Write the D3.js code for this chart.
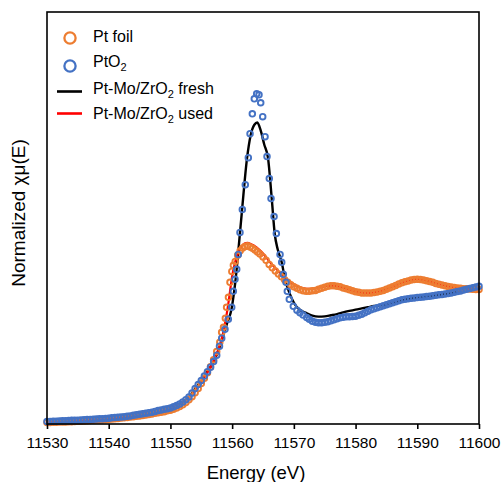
<!DOCTYPE html>
<html>
<head>
<meta charset="utf-8">
<script src="https://cdn.jsdelivr.net/npm/d3@7"></script>
<style>
  html, body { margin: 0; padding: 0; background: #fff; }
  svg { display: block; font-family: Arial, "Liberation Sans", Helvetica, sans-serif; }
</style>
</head>
<body>
<div id="xanes"></div>
<script>
// energy ticks (eV)
const energyTicks = [11530, 11540, 11550, 11560, 11570, 11580, 11590, 11600];

// Pt foil reference (orange circles) [energy, normalized mu]
const ptFoil = [
  [11530, -0.011], [11530.5, -0.011], [11531, -0.010], [11531.5, -0.009], [11532, -0.008], [11532.5, -0.008],
  [11533, -0.007], [11533.5, -0.006], [11534, -0.005], [11534.5, -0.004], [11535, -0.002], [11535.5, -0.001],
  [11536, 0.001], [11536.5, 0.002], [11537, 0.004], [11537.5, 0.005], [11538, 0.007], [11538.5, 0.008],
  [11539, 0.010], [11539.5, 0.011], [11540, 0.013], [11540.5, 0.015], [11541, 0.017], [11541.5, 0.020],
  [11542, 0.022], [11542.5, 0.024], [11543, 0.027], [11543.5, 0.030], [11544, 0.033], [11544.5, 0.036],
  [11545, 0.039], [11545.5, 0.042], [11546, 0.046], [11546.5, 0.050], [11547, 0.054], [11547.5, 0.058],
  [11548, 0.062], [11548.5, 0.067], [11549, 0.071], [11549.5, 0.077], [11550, 0.082], [11550.5, 0.089],
  [11551, 0.098], [11551.5, 0.110], [11552, 0.123], [11552.5, 0.140], [11553, 0.161], [11553.5, 0.185],
  [11554, 0.214], [11554.5, 0.246], [11555, 0.284], [11555.5, 0.324], [11556, 0.367], [11556.5, 0.413],
  [11557, 0.466], [11557.5, 0.527], [11558, 0.598], [11558.3, 0.674], [11558.6, 0.712], [11558.9, 0.780],
  [11559.1, 0.864], [11559.4, 0.939], [11559.65, 1.053], [11559.95, 1.136], [11560.2, 1.182], [11560.5, 1.212],
  [11560.9, 1.258], [11561.3, 1.292], [11561.7, 1.314], [11562.1, 1.326], [11562.5, 1.330], [11562.9, 1.322],
  [11563.3, 1.311], [11563.7, 1.299], [11564.1, 1.284], [11564.5, 1.269], [11565, 1.246], [11565.5, 1.220],
  [11566, 1.189], [11566.5, 1.163], [11567, 1.140], [11567.5, 1.117], [11568, 1.095], [11568.5, 1.072],
  [11569, 1.053], [11569.5, 1.034], [11570, 1.019], [11570.5, 1.008], [11571, 0.996], [11571.5, 0.989],
  [11572, 0.985], [11572.5, 0.985], [11573, 0.989], [11573.5, 0.992], [11574, 1.000], [11574.5, 1.008],
  [11575, 1.015], [11575.5, 1.023], [11576, 1.027], [11576.5, 1.027], [11577, 1.023], [11577.5, 1.019],
  [11578, 1.011], [11578.5, 1.004], [11579, 0.996], [11579.5, 0.989], [11580, 0.981], [11580.5, 0.977],
  [11581, 0.973], [11581.5, 0.972], [11582, 0.972], [11582.5, 0.973], [11583, 0.976], [11583.5, 0.980],
  [11584, 0.985], [11584.5, 0.992], [11585, 1.000], [11585.5, 1.010], [11586, 1.020], [11586.5, 1.030],
  [11587, 1.040], [11587.5, 1.049], [11588, 1.057], [11588.5, 1.064], [11589, 1.070], [11589.5, 1.074],
  [11590, 1.076], [11590.5, 1.074], [11591, 1.070], [11591.5, 1.065], [11592, 1.059], [11592.5, 1.053],
  [11593, 1.045], [11593.5, 1.038], [11594, 1.032], [11594.5, 1.027], [11595, 1.021], [11595.5, 1.017],
  [11596, 1.013], [11596.5, 1.010], [11597, 1.008], [11597.5, 1.005], [11598, 1.004], [11598.5, 1.002],
  [11599, 1.000], [11599.5, 0.998], [11600, 0.998]
];

// PtO2 reference (blue circles)
const ptO2 = [
  [11530, -0.004], [11530.5, -0.003], [11531, -0.002], [11531.5, -0.001], [11532, 0.001], [11532.5, 0.002],
  [11533, 0.002], [11533.5, 0.004], [11534, 0.005], [11534.5, 0.005], [11535, 0.006], [11535.5, 0.008],
  [11536, 0.009], [11536.5, 0.011], [11537, 0.012], [11537.5, 0.014], [11538, 0.015], [11538.5, 0.017],
  [11539, 0.018], [11539.5, 0.020], [11540, 0.021], [11540.5, 0.024], [11541, 0.026], [11541.5, 0.028],
  [11542, 0.030], [11542.5, 0.033], [11543, 0.036], [11543.5, 0.039], [11544, 0.043], [11544.5, 0.047],
  [11545, 0.051], [11545.5, 0.055], [11546, 0.058], [11546.5, 0.063], [11547, 0.067], [11547.5, 0.073],
  [11548, 0.079], [11548.5, 0.084], [11549, 0.089], [11549.5, 0.094], [11550, 0.098], [11550.5, 0.108],
  [11551, 0.117], [11551.5, 0.130], [11552, 0.144], [11552.5, 0.162], [11553, 0.182], [11553.5, 0.212],
  [11554, 0.246], [11554.5, 0.277], [11555, 0.307], [11555.5, 0.341], [11556, 0.375], [11556.5, 0.409],
  [11557, 0.451], [11557.5, 0.500], [11557.95, 0.568], [11558.31, 0.629], [11558.84, 0.697], [11559.38, 0.773],
  [11559.93, 0.864], [11560.19, 0.985], [11560.46, 1.076], [11560.74, 1.152], [11561.0, 1.265], [11561.27, 1.432],
  [11561.65, 1.606], [11562.13, 1.795], [11562.62, 2.000], [11562.9, 2.182], [11563.27, 2.333], [11563.59, 2.447],
  [11563.98, 2.485], [11564.35, 2.477], [11564.63, 2.417], [11564.95, 2.311], [11565.33, 2.159], [11565.65, 2.008],
  [11566.02, 1.841], [11566.3, 1.689], [11566.79, 1.553], [11567.16, 1.424], [11567.76, 1.265], [11568.03, 1.205],
  [11568.29, 1.114], [11568.73, 1.053], [11568.94, 0.985], [11569.26, 0.924], [11569.91, 0.871], [11570.5, 0.841],
  [11570.99, 0.822], [11571.5, 0.805], [11572.08, 0.786], [11572.5, 0.772], [11573, 0.758], [11573.5, 0.750],
  [11574, 0.746], [11574.5, 0.746], [11575, 0.750], [11575.5, 0.754], [11576, 0.761], [11576.5, 0.769],
  [11577, 0.777], [11577.5, 0.784], [11578, 0.788], [11578.5, 0.792], [11579, 0.792], [11579.5, 0.793],
  [11580, 0.795], [11580.5, 0.803], [11581, 0.811], [11581.5, 0.822], [11582, 0.833], [11582.5, 0.845],
  [11583, 0.852], [11583.5, 0.860], [11584, 0.867], [11584.5, 0.875], [11585, 0.883], [11585.5, 0.890],
  [11586, 0.898], [11586.5, 0.905], [11587, 0.913], [11587.5, 0.920], [11588, 0.924], [11588.5, 0.928],
  [11589, 0.932], [11589.5, 0.934], [11590, 0.937], [11590.5, 0.939], [11591, 0.942], [11591.5, 0.945],
  [11592, 0.948], [11592.5, 0.952], [11593, 0.955], [11593.5, 0.958], [11594, 0.961], [11594.5, 0.964],
  [11595, 0.968], [11595.5, 0.973], [11596, 0.977], [11596.5, 0.983], [11597, 0.988], [11597.5, 0.994],
  [11598, 1.000], [11598.5, 1.006], [11599, 1.012], [11599.5, 1.018], [11600, 1.023]
];

// Pt-Mo/ZrO2 fresh (black line)
const fresh = [
  [11530, -0.004], [11532, 0.001], [11534, 0.005], [11536, 0.009], [11538, 0.015], [11540, 0.021],
  [11542, 0.030], [11544, 0.043], [11546, 0.058], [11548, 0.079], [11550, 0.098], [11551, 0.117],
  [11552, 0.144], [11553, 0.182], [11554, 0.246], [11555, 0.307], [11556, 0.375], [11557, 0.451],
  [11558, 0.565], [11558.6, 0.655], [11559.2, 0.745], [11559.9, 0.850], [11560.3, 0.975], [11560.6, 1.090],
  [11561.0, 1.290], [11561.6, 1.600], [11562.4, 1.990], [11563.0, 2.170], [11563.6, 2.250], [11564.08, 2.267],
  [11564.6, 2.210], [11565.2, 2.100], [11565.81, 1.998], [11566.4, 1.700], [11566.9, 1.422], [11567.4, 1.300],
  [11568.03, 1.205], [11568.57, 1.076], [11569.38, 0.962], [11570.5, 0.864], [11571.3, 0.835], [11572.1, 0.818],
  [11573, 0.800], [11574, 0.793], [11575, 0.795], [11576, 0.803], [11577, 0.812], [11578, 0.825],
  [11579, 0.836], [11580, 0.846], [11581, 0.855], [11582, 0.864], [11583, 0.873], [11584, 0.878],
  [11585, 0.885], [11586, 0.898], [11588, 0.922], [11590, 0.937], [11592, 0.948], [11594, 0.961],
  [11596, 0.977], [11598, 1.000], [11600, 1.023]
];

// Pt-Mo/ZrO2 used (red line)
const used = [
  [11530, -0.007], [11532, -0.003], [11534, 0.001], [11536, 0.006], [11538, 0.011], [11540, 0.017],
  [11542, 0.026], [11544, 0.038], [11546, 0.052], [11548, 0.070], [11550, 0.090], [11551, 0.107],
  [11552, 0.133], [11553, 0.170], [11554, 0.228], [11555, 0.295], [11556, 0.370], [11557, 0.458],
  [11558, 0.575], [11558.5, 0.660], [11559, 0.780], [11559.5, 0.930], [11560, 1.100], [11560.5, 1.210],
  [11561, 1.280], [11561.5, 1.325], [11562, 1.348], [11562.5, 1.352], [11563, 1.345], [11563.5, 1.333],
  [11564, 1.316], [11564.5, 1.296], [11565, 1.272], [11565.5, 1.244], [11566, 1.214], [11566.5, 1.186],
  [11567, 1.162], [11567.5, 1.138], [11568, 1.115], [11568.5, 1.092], [11569, 1.072], [11569.5, 1.054],
  [11570, 1.039], [11570.5, 1.027], [11571, 1.016], [11571.5, 1.009], [11572, 1.004], [11573, 1.004],
  [11574, 1.012], [11575, 1.022], [11576, 1.028], [11577, 1.024], [11578, 1.012], [11579, 0.998],
  [11580, 0.984], [11581, 0.975], [11582, 0.973], [11583, 0.977], [11584, 0.986], [11585, 1.001],
  [11586, 1.021], [11587, 1.041], [11588, 1.058], [11589, 1.071], [11590, 1.077], [11591, 1.071],
  [11592, 1.060], [11593, 1.046], [11594, 1.033], [11595, 1.022], [11596, 1.014], [11597, 1.009],
  [11598, 1.005], [11599, 1.001], [11600, 0.999]
];

const ORANGE = "#ed7d31";
const BLUE = "#4472c4";

const width = 503, height = 482;
const margin = { top: 12, right: 24, bottom: 58, left: 47 };

const svg = d3.select("#xanes")
  .append("svg")
  .attr("width", width)
  .attr("height", height);

const x = d3.scaleLinear().domain([11530, 11600]).range([margin.left, width - margin.right]);
const y = d3.scaleLinear().domain([-0.0227, 3.106]).range([height - margin.bottom, margin.top]);

const line = d3.line()
  .x(d => x(d[0]))
  .y(d => y(d[1]))
  .curve(d3.curveMonotoneX);

// lines go under the hollow markers
svg.append("path").datum(fresh)
  .attr("fill", "none").attr("stroke", "#000").attr("stroke-width", 2.4)
  .attr("d", line);
svg.append("path").datum(used)
  .attr("fill", "none").attr("stroke", "#ff0000").attr("stroke-width", 2.2)
  .attr("d", line);

function drawMarkers(data, color) {
  svg.append("g")
    .selectAll("circle")
    .data(data)
    .join("circle")
    .attr("cx", d => x(d[0]))
    .attr("cy", d => y(d[1]))
    .attr("r", 2.8)
    .attr("fill", "none")
    .attr("stroke", color)
    .attr("stroke-width", 1.9);
}
drawMarkers(ptFoil, ORANGE);
drawMarkers(ptO2, BLUE);

// frame
svg.append("rect")
  .attr("x", margin.left).attr("y", margin.top)
  .attr("width", width - margin.left - margin.right)
  .attr("height", height - margin.top - margin.bottom)
  .attr("fill", "none").attr("stroke", "#000").attr("stroke-width", 1.6);

const xAxis = svg.append("g")
  .attr("transform", `translate(0, ${height - margin.bottom})`)
  .call(d3.axisBottom(x).tickValues(energyTicks).tickFormat(d3.format("d")).tickSize(5).tickSizeOuter(0).tickPadding(8));
xAxis.select(".domain").remove();
xAxis.selectAll(".tick line").attr("stroke-width", 1.6);
xAxis.selectAll("text").attr("font-size", 15.5).attr("fill", "#000").attr("font-family", null);

svg.append("text")
  .attr("x", 256).attr("y", 479)
  .attr("text-anchor", "middle")
  .attr("font-size", 18.5)
  .text("Energy (eV)");

svg.append("text")
  .attr("transform", `translate(25, 213) rotate(-90)`)
  .attr("text-anchor", "middle")
  .attr("font-size", 19)
  .text("Normalized χμ(E)");

// legend
const legend = svg.append("g");
const rows = [
  { type: "circle", color: ORANGE, label: ["Pt foil"], cy: 38, ty: 42 },
  { type: "circle", color: BLUE, label: ["PtO", "2"], cy: 66, ty: 66.5 },
  { type: "line", color: "#000", label: ["Pt-Mo/ZrO", "2", " fresh"], cy: 91.5, ty: 93.5 },
  { type: "line", color: "#ff0000", label: ["Pt-Mo/ZrO", "2", " used"], cy: 113.5, ty: 119 }
];
rows.forEach(r => {
  if (r.type === "circle") {
    legend.append("circle").attr("cx", 70).attr("cy", r.cy).attr("r", 5.6)
      .attr("fill", "none").attr("stroke", r.color).attr("stroke-width", 2.3);
  } else {
    legend.append("line").attr("x1", 57).attr("x2", 82).attr("y1", r.cy).attr("y2", r.cy)
      .attr("stroke", r.color).attr("stroke-width", 2.6);
  }
  const t = legend.append("text").attr("x", 93).attr("y", r.ty).attr("font-size", 16);
  t.append("tspan").text(r.label[0]);
  if (r.label.length > 1) {
    t.append("tspan").attr("font-size", 11).attr("dy", 4).text(r.label[1]);
    if (r.label[2]) t.append("tspan").attr("dy", -4).text(r.label[2]);
  }
});
</script>
</body>
</html>
